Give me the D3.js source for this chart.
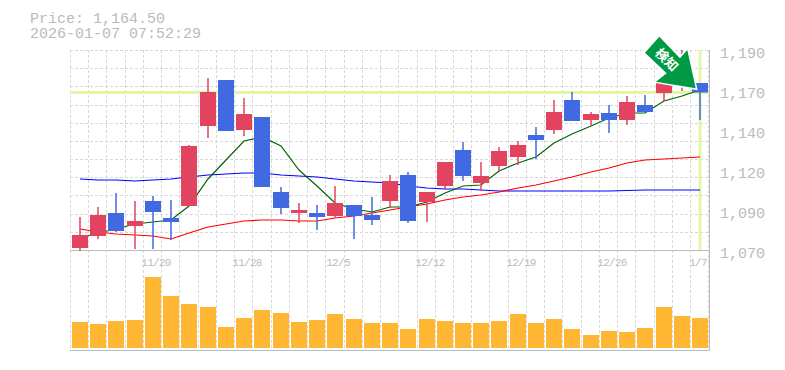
<!DOCTYPE html>
<html>
<head>
<meta charset="utf-8">
<script src="https://cdn.jsdelivr.net/npm/d3@7"></script>
<style>
html, body { margin: 0; padding: 0; background: #fff; }
svg { display: block; }
text { font-family: "Liberation Mono", monospace; fill: #bbb; }
</style>
</head>
<body>
<svg id="chart" width="785" height="370"></svg>
<script>
// values
const lastPrice = 1164.5;
const stamp = "2026-01-07 07:52:29";
const yTicks = [1190, 1166, 1142, 1118, 1094, 1070];
const dateLabels = ["", "", "", "", "11/20", "", "", "", "", "11/28", "", "", "", "", "12/5", "", "", "", "", "12/12", "", "", "", "", "12/19", "", "", "", "", "12/26", "", "", "", "", "1/7"];

const opens  = [1071.2, 1078.4, 1092.2, 1084.4, 1099.4, 1089.2, 1096.4, 1144.4, 1172, 1142, 1149.8, 1104.8, 1092.2, 1092.2, 1090.4, 1097, 1091, 1099.4, 1115, 1098.8, 1108.4, 1130, 1110.2, 1120.4, 1125.8, 1139, 1142, 1160, 1148, 1152.2, 1148, 1157, 1164.2, 1169.6, 1170.2];
const closes = [1079, 1091, 1081.4, 1087.4, 1092.8, 1086.8, 1132.4, 1164.8, 1141.4, 1151.6, 1107.8, 1095.2, 1094, 1089.8, 1098.2, 1090.4, 1088, 1111.4, 1087.4, 1104.8, 1122.8, 1114.4, 1114.4, 1129.4, 1133, 1136, 1152.8, 1147.4, 1151.6, 1148, 1158.8, 1152.8, 1170.2, 1184, 1164.5];
const highs  = [1089.8, 1095.8, 1104.2, 1099.4, 1102.4, 1100, 1133, 1173.2, 1172, 1161.2, 1149.8, 1107.8, 1098.2, 1097, 1108.4, 1097, 1101.8, 1115, 1116.8, 1104.8, 1122.8, 1134.8, 1122.8, 1131.8, 1135.4, 1143.8, 1160, 1164.8, 1152.8, 1157, 1162.4, 1163, 1172, 1190, 1170.2];
const lows   = [1069.4, 1076.6, 1080.8, 1070.6, 1070.6, 1076, 1096.4, 1137.2, 1141.4, 1138.4, 1107.8, 1091.6, 1086.2, 1082, 1089.2, 1076.6, 1085, 1095.2, 1086.2, 1086.8, 1106, 1111.4, 1105.4, 1117.4, 1121, 1124.6, 1139.6, 1147.4, 1144.4, 1140.2, 1145, 1152.8, 1159.4, 1165.4, 1148];

const maShort = [1077.2, 1080.2, 1082.6, 1085.6, 1086.8, 1088, 1096.4, 1112.6, 1124, 1135.4, 1137.8, 1132.4, 1118, 1108.4, 1098.2, 1094.6, 1092.8, 1095.8, 1095.8, 1098.8, 1104.2, 1108.4, 1109, 1117.4, 1122.2, 1125.8, 1134.2, 1139.6, 1144.4, 1149.2, 1152.2, 1152.2, 1159.4, 1162.4, 1166];
const maMid   = [1082.6, 1080.8, 1079.6, 1079, 1078.4, 1076.6, 1080.2, 1083.8, 1085.6, 1087.4, 1088, 1088, 1087.4, 1087.4, 1089.2, 1090.4, 1092.2, 1094, 1095.8, 1097.6, 1100, 1101.8, 1103, 1104.8, 1107.2, 1109, 1111.4, 1113.8, 1116.8, 1119.2, 1122.2, 1124, 1124.6, 1125.2, 1125.8];
const maLong  = [1112.6, 1112, 1112, 1111.4, 1112, 1112.6, 1113.8, 1115, 1115.6, 1116.2, 1116.2, 1115, 1114.4, 1113.8, 1112.6, 1111.4, 1110.8, 1110.2, 1108.4, 1107.2, 1106.6, 1106.6, 1106, 1105.4, 1105.4, 1105.4, 1105.4, 1105.4, 1105.4, 1105.4, 1105.7, 1106, 1106, 1106, 1106];

const volumes = [260, 240, 270, 280, 710, 520, 440, 410, 210, 300, 380, 350, 260, 280, 340, 290, 250, 250, 190, 290, 270, 250, 250, 270, 340, 250, 290, 190, 130, 170, 160, 200, 410, 320, 300];

const upColor = "#e2435f", downColor = "#4169e1", volColor = "#ffb733";
const svg = d3.select("#chart");
const idx = d3.range(opens.length);

const x = d3.scaleBand().domain(idx).range([71, 709.3]);
const y = d3.scaleLinear().domain([1070, 1190]).range([250, 50]);
const yVol = d3.scaleLinear().domain([0, 1000]).range([348, 248]);
const snap = v => Math.round(v) + 0.5;
const cx = i => Math.round(x(i)) + 9;

// dashed grid
const grid = svg.append("g").attr("stroke", "#d8d8d8").attr("stroke-dasharray", "3,2");
grid.selectAll("line.v").data(d3.range(opens.length + 1)).enter().append("line")
  .attr("x1", i => snap(70 + i * x.step())).attr("x2", i => snap(70 + i * x.step()))
  .attr("y1", 50).attr("y2", 350);
grid.selectAll("line.h").data(d3.range(12)).enter().append("line")
  .attr("x1", 70).attr("x2", 710)
  .attr("y1", i => snap(50 + i * 200 / 11)).attr("y2", i => snap(50 + i * 200 / 11));

// last price cross
svg.append("line").attr("x1", 70).attr("x2", 710)
  .attr("y1", y(lastPrice)).attr("y2", y(lastPrice))
  .attr("stroke", "#e3f5a6").attr("stroke-width", 3);
svg.append("line").attr("x1", cx(34)).attr("x2", cx(34))
  .attr("y1", 50).attr("y2", 250)
  .attr("stroke", "#e3f5a6").attr("stroke-width", 3);

// frame
const frame = svg.append("g").attr("stroke", "#bbb").attr("stroke-width", 1);
frame.append("line").attr("x1", 70).attr("x2", 710).attr("y1", 250.5).attr("y2", 250.5);
frame.append("line").attr("x1", 70).attr("x2", 710).attr("y1", 350.5).attr("y2", 350.5);
frame.append("line").attr("x1", 709.5).attr("x2", 709.5).attr("y1", 50).attr("y2", 350);

// moving averages sit under the candles
const ma = d3.line().x((d, i) => cx(i)).y(d => y(d));
[[maLong, "#0000ff", 1.2], [maMid, "#ff0000", 1.2], [maShort, "#006400", 1.2]].forEach(([s, c, w]) => {
  svg.append("path").attr("d", ma(s)).attr("fill", "none").attr("stroke", c).attr("stroke-width", w);
});

// candles
const candles = svg.append("g");
candles.selectAll("line").data(idx).enter().append("line")
  .attr("x1", cx).attr("x2", cx)
  .attr("y1", i => y(highs[i])).attr("y2", i => y(lows[i]))
  .attr("stroke", i => closes[i] >= opens[i] ? upColor : downColor)
  .attr("stroke-width", 1.5);
candles.selectAll("rect").data(idx).enter().append("rect")
  .attr("x", i => cx(i) - 8).attr("width", 16)
  .attr("y", i => y(Math.max(opens[i], closes[i])))
  .attr("height", i => Math.abs(y(opens[i]) - y(closes[i])))
  .attr("fill", i => closes[i] >= opens[i] ? upColor : downColor);

// volume
svg.append("g").selectAll("rect").data(idx).enter().append("rect")
  .attr("x", i => cx(i) - 8).attr("width", 16)
  .attr("y", i => yVol(volumes[i]))
  .attr("height", i => yVol(0) - yVol(volumes[i]))
  .attr("fill", volColor);

// arrow marker
const arrow = svg.append("g");
arrow.append("path")
  .attr("d", "M659.3,36.7 L645,52.7 L666.7,73.3 L656,81.7 L695.7,88.3 L687.3,50 L680,58.3 Z")
  .attr("fill", "#009944").attr("stroke", "#fff").attr("stroke-width", 3).attr("stroke-linejoin", "miter")
  .attr("paint-order", "stroke");
arrow.append("text").attr("transform", "translate(663.5,63) rotate(45)")
  .attr("text-anchor", "middle")
  .style("font-family", "'Noto Sans CJK JP'").style("font-size", "13px").style("font-weight", "700").style("fill", "#fff")
  .text("検知");

// axes text
svg.selectAll("text.yt").data(yTicks).enter().append("text")
  .attr("x", 720).attr("y", d => y(d) + 8)
  .style("font-size", "15px")
  .text(d => d3.format(",")(Math.round(d / 10) * 10));
svg.selectAll("text.xt").data(idx.filter(i => dateLabels[i])).enter().append("text")
  .attr("x", i => i === 34 ? 698 : cx(i) + 3).attr("y", 266)
  .attr("text-anchor", "middle")
  .style("font-size", "11px").style("letter-spacing", "-0.7px")
  .text(i => dateLabels[i]);

// header
svg.append("text").attr("x", 30).attr("y", 23).style("font-size", "15px").text("Price: " + d3.format(",.2f")(lastPrice));
svg.append("text").attr("x", 30).attr("y", 38).style("font-size", "15px").text(stamp);
</script>
</body>
</html>
